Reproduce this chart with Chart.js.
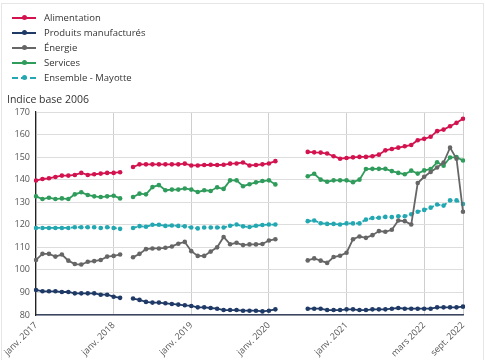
<!doctype html>
<html lang="fr">
<head>
<meta charset="utf-8">
<title>Indices des prix - Mayotte</title>
<script src="https://cdn.jsdelivr.net/npm/chart.js@4.4.0/dist/chart.umd.min.js"></script>
<style>
  * { margin: 0; padding: 0; box-sizing: border-box; }
  html, body { width: 485px; height: 360px; overflow: hidden; background: #fff; }
  body { font-family: "Open Sans", sans-serif; color: #333; }
  #wrap { position: relative; width: 485px; height: 360px; }
  #cadre { position: absolute; left: 1px; top: 3px; right: 1px; bottom: 0; border: 1px solid #e6e6e6; border-bottom: 0; pointer-events: none; }
  #legend { position: absolute; left: 12px; top: 10px; list-style: none; font-size: 9.5px; }
  #legend li { height: 15px; display: flex; align-items: center; }
  #legend .ln { position: relative; width: 24px; height: 0; border-top: 2px solid; margin-right: 8px; }
  #legend .ln.dash { border-top-style: dashed; }
  #legend .ln i { position: absolute; left: 9.5px; top: -3.5px; width: 5px; height: 5px; border-radius: 50%; }
  #titre { position: absolute; left: 7px; top: 92px; font-size: 10.5px; }
  canvas { position: absolute; left: 0; top: 0; }
</style>
</head>
<body>
<div id="wrap">
  <canvas id="graph" width="485" height="360"></canvas>
  <ul id="legend"></ul>
  <div id="titre">Indice base 2006</div>
  <div id="cadre"></div>
</div>
<script>
// mois (les trous = mois sans collecte)
const mois = [
  'janv. 2017','févr. 2017','mars 2017','avr. 2017','mai 2017','juin 2017','juil. 2017','août 2017','sept. 2017','oct. 2017','nov. 2017','déc. 2017',
  'janv. 2018','févr. 2018','mars 2018','avr. 2018','mai 2018','juin 2018','juil. 2018','août 2018','sept. 2018','oct. 2018','nov. 2018','déc. 2018',
  'janv. 2019','févr. 2019','mars 2019','avr. 2019','mai 2019','juin 2019','juil. 2019','août 2019','sept. 2019','oct. 2019','nov. 2019','déc. 2019',
  'janv. 2020','févr. 2020','mars 2020','avr. 2020','mai 2020','juin 2020','juil. 2020','août 2020','sept. 2020','oct. 2020','nov. 2020','déc. 2020',
  'janv. 2021','avr. 2021','mai 2021','juin 2021','juil. 2021','août 2021','sept. 2021','oct. 2021','nov. 2021','déc. 2021','janv. 2022','févr. 2022',
  'mars 2022','avr. 2022','mai 2022','juin 2022','juil. 2022','août 2022','sept. 2022'
];
// indices des mois affichés sous l'axe
const moisAffiches = [0, 12, 24, 36, 48, 60, 66];

const alimentation = [
  139.6,140.3,140.6,141.2,141.8,141.8,142.1,143.0,142.1,142.4,142.7,143.0,143.0,143.3,
  null,
  145.6,146.8,146.8,146.8,146.8,146.8,146.8,146.8,147.1,146.3,146.3,146.5,146.6,146.5,146.6,147.1,147.2,147.6,146.3,146.5,146.8,147.2,148.2,
  null,null,null,null,
  152.3,152.1,152.0,151.6,150.4,149.3,149.6,149.9,150.1,150.1,150.4,151.1,153.0,153.6,154.2,154.8,155.4,157.5,158.1,159.0,161.5,162.2,163.7,165.2,167.0
];
const produitsManufactures = [
  91.1,90.5,90.5,90.5,90.2,90.2,89.6,89.6,89.6,89.6,89.0,89.0,88.1,87.6,
  null,
  87.3,86.7,85.8,85.5,85.5,85.2,84.9,84.6,84.3,84.0,83.4,83.4,83.1,82.8,82.2,82.2,82.2,81.9,81.9,81.9,81.6,81.9,82.5,
  null,null,null,null,
  82.8,82.8,82.8,82.2,82.2,82.2,82.5,82.5,82.2,82.2,82.5,82.5,82.5,82.8,83.1,82.8,82.8,82.8,82.8,82.8,83.4,83.4,83.4,83.4,83.7
];
const energie = [
  104.4,107.1,107.1,105.9,106.8,104.1,102.6,102.4,103.6,103.9,104.4,105.9,106.2,106.8,
  null,
  105.6,107.1,109.2,109.5,109.5,109.8,110.4,111.6,112.4,108.3,106.2,106.2,108.1,110.0,114.6,111.4,112.0,111.0,111.3,111.3,111.5,113.0,113.6,
  null,null,null,null,
  104.2,105.1,104.1,103.1,105.7,106.3,107.6,113.6,114.8,114.2,115.4,117.2,116.9,117.8,121.9,121.6,120.1,138.5,141.3,143.4,145.4,147.6,154.2,149.3,125.8
];
const services = [
  132.6,131.4,132.0,131.4,131.7,131.4,133.5,134.4,133.2,132.6,132.3,132.6,132.9,131.7,
  null,
  132.3,133.8,133.5,136.7,137.6,135.3,135.6,135.6,136.1,135.6,134.5,135.3,135.0,136.6,135.9,139.7,139.7,137.1,138.0,138.8,139.4,139.7,137.9,
  null,null,null,null,
  141.5,142.6,140.0,139.1,139.7,139.7,139.7,138.9,140.0,144.7,144.8,144.8,144.8,143.8,143.0,142.4,144.0,142.7,144.1,144.7,147.7,146.2,149.8,150.0,148.5
];
const ensemble = [
  118.6,118.6,118.6,118.6,118.6,118.6,118.9,118.9,118.9,118.9,118.6,118.9,118.6,118.2,
  null,
  118.6,119.4,119.1,120.0,120.0,119.5,119.7,119.5,119.3,118.8,118.4,118.8,118.8,118.8,118.8,119.6,120.1,119.3,119.0,119.6,119.9,120.1,120.1,
  null,null,null,null,
  121.6,121.9,120.7,120.4,120.4,120.1,120.6,120.6,120.6,122.3,123.0,123.1,123.5,123.4,123.8,123.8,124.7,125.8,126.6,127.6,129.0,128.5,130.8,130.8,129.2
];

const series = [
  { label: 'Alimentation', data: alimentation, color: '#d3134f' },
  { label: 'Produits manufacturés', data: produitsManufactures, color: '#1f3a66' },
  { label: 'Énergie', data: energie, color: '#666666' },
  { label: 'Services', data: services, color: '#2f9c5b' },
  { label: 'Ensemble - Mayotte', data: ensemble, color: '#23a8b2', dash: true }
];

// légende en html, une ligne par série
const ul = document.getElementById('legend');
series.forEach(s => {
  const li = document.createElement('li');
  li.innerHTML = '<span class="ln' + (s.dash ? ' dash' : '') + '" style="border-color:' + s.color + '"><i style="background:' + s.color + '"></i></span>' + s.label;
  ul.appendChild(li);
});

const ctx = document.getElementById('graph');
new Chart(ctx, {
  type: 'line',
  data: {
    labels: mois,
    datasets: series.map(s => ({
      label: s.label,
      data: s.data,
      borderColor: s.color,
      backgroundColor: s.color,
      borderWidth: 1.8,
      borderDash: s.dash ? [4, 3] : [],
      pointRadius: 2.3,
      pointHoverRadius: 2.3,
      pointBorderWidth: 0,
      fill: false,
      spanGaps: false,
      tension: 0
    }))
  },
  options: {
    responsive: false,
    animation: false,
    layout: { padding: { top: 112, right: 22, bottom: 0, left: 0 } },
    plugins: { legend: { display: false }, tooltip: { enabled: false } },
    scales: {
      x: {
        offset: false,
        grid: {
          drawTicks: false,
          color: c => moisAffiches.includes(c.index) ? '#cfcfcf' : 'rgba(0,0,0,0)'
        },
        border: { color: '#3a4660', width: 1.5 },
        ticks: {
          autoSkip: false,
          minRotation: 45,
          maxRotation: 45,
          padding: 5,
          color: '#555',
          font: { family: 'Open Sans', size: 9 },
          callback: (v, i) => moisAffiches.includes(i) ? mois[i] : ''
        },
        afterFit: s => { s.height = 45; }
      },
      y: {
        min: 80,
        max: 170,
        grid: { drawTicks: false, color: '#dddddd' },
        border: { color: '#222', width: 1.2 },
        ticks: {
          stepSize: 10,
          padding: 6,
          color: '#555',
          font: { family: 'Open Sans', size: 9 }
        },
        afterFit: s => { s.width = 36; }
      }
    }
  }
});
</script>
</body>
</html>
